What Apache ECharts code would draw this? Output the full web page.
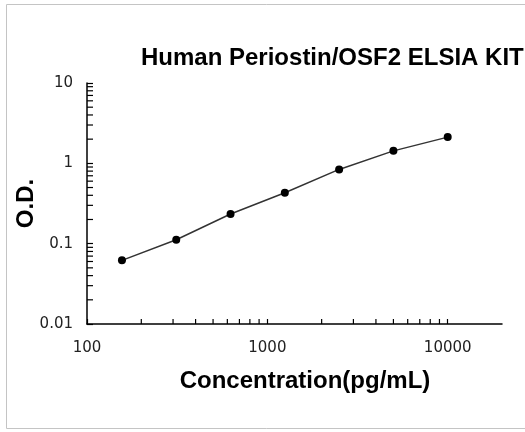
<!DOCTYPE html>
<html>
<head>
<meta charset="utf-8">
<script src="https://cdn.jsdelivr.net/npm/echarts@6.0.0/dist/echarts.min.js"></script>
<style>
  html, body { margin: 0; padding: 0; background: #fff; }
  #chart { width: 525px; height: 432px; }
</style>
</head>
<body>
<div id="chart"></div>
<script>
// standard curve points
const concentrations = [156.25, 312.5, 625, 1250, 2500, 5000, 10000];
const odValues = [0.062, 0.112, 0.234, 0.43, 0.84, 1.43, 2.12];

// axis ranges and minor ticks
const xRange = [100, 20000];
const yRange = [0.01, 10];
const xMinorTicks = [200, 300, 400, 500, 600, 700, 800, 900,
                     2000, 3000, 4000, 5000, 6000, 7000, 8000, 9000];
const yMinorTicks = [0.02, 0.03, 0.04, 0.05, 0.06, 0.07, 0.08, 0.09,
                     0.2, 0.3, 0.4, 0.5, 0.6, 0.7, 0.8, 0.9,
                     2, 3, 4, 5, 6, 7, 8, 9];

const labelFont = '"DejaVu Sans", Verdana, sans-serif';
const boldFont = '"Liberation Sans", Arial, sans-serif';

function plainNumber(v) {
    return String(+(+v).toPrecision(3));
}

let myChart = echarts.init(document.getElementById('chart'));

myChart.setOption({
    animation: false,
    title: {
        text: 'Human Periostin/OSF2 ELSIA KIT',
        left: 136,
        top: 41,
        textStyle: { fontFamily: boldFont, fontWeight: 'bold', fontSize: 24, color: '#000' }
    },
    grid: {
        left: 87,
        right: 23,
        top: 83,
        bottom: 108,
        containLabel: false,
        outerBoundsMode: 'none'
    },
    xAxis: {
        type: 'log',
        logBase: 10,
        min: xRange[0],
        max: xRange[1],
        name: 'Concentration(pg/mL)',
        nameLocation: 'middle',
        nameGap: 45,
        nameMoveOverlap: false,
        nameTextStyle: {
            fontFamily: boldFont, fontWeight: 'bold', fontSize: 24, color: '#000',
            padding: [0, 0, 0, 21]
        },
        axisLine: { lineStyle: { color: '#000', width: 1.5 } },
        axisTick: { inside: true, length: 5, lineStyle: { color: '#000', width: 1.2 } },
        axisLabel: {
            showMaxLabel: false,
            margin: 17,
            fontFamily: labelFont, fontSize: 15, color: '#222',
            formatter: plainNumber
        },
        splitLine: { show: false }
    },
    yAxis: {
        type: 'log',
        logBase: 10,
        min: yRange[0],
        max: yRange[1],
        name: 'O.D.',
        nameLocation: 'middle',
        nameGap: 49,
        nameMoveOverlap: false,
        nameRotate: 90,
        nameTextStyle: { fontFamily: boldFont, fontWeight: 'bold', fontSize: 24, color: '#000' },
        axisLine: { lineStyle: { color: '#000', width: 1.5 } },
        axisTick: { inside: true, length: 6, lineStyle: { color: '#000', width: 1.2 } },
        axisLabel: {
            margin: 14,
            fontFamily: labelFont, fontSize: 15, color: '#222',
            formatter: plainNumber
        },
        splitLine: { show: false }
    },
    series: [{
        type: 'line',
        data: concentrations.map((c, i) => [c, odValues[i]]),
        smooth: false,
        symbol: 'circle',
        symbolSize: 8,
        itemStyle: { color: '#000' },
        lineStyle: { color: '#333', width: 1.5 }
    }]
});

// minor ticks on the log axes, positioned with the chart's own scales
let graphics = [{
    type: 'rect',
    shape: { x: 6.5, y: 4.5, width: 560, height: 424 },
    style: { fill: 'none', stroke: '#c4c4c4', lineWidth: 1 },
    silent: true,
    z: -1
}];
let x0 = myChart.convertToPixel({ xAxisIndex: 0 }, xRange[0]);
let y0 = myChart.convertToPixel({ yAxisIndex: 0 }, yRange[0]);
xMinorTicks.forEach(v => {
    let px = myChart.convertToPixel({ xAxisIndex: 0 }, v);
    graphics.push({
        type: 'line',
        shape: { x1: px, y1: y0, x2: px, y2: y0 - 5 },
        style: { stroke: '#000', lineWidth: 1.2 },
        silent: true
    });
});
yMinorTicks.forEach(v => {
    let py = myChart.convertToPixel({ yAxisIndex: 0 }, v);
    graphics.push({
        type: 'line',
        shape: { x1: x0, y1: py, x2: x0 + 6, y2: py },
        style: { stroke: '#000', lineWidth: 1.2 },
        silent: true
    });
});
myChart.setOption({ graphic: graphics });
</script>
</body>
</html>
